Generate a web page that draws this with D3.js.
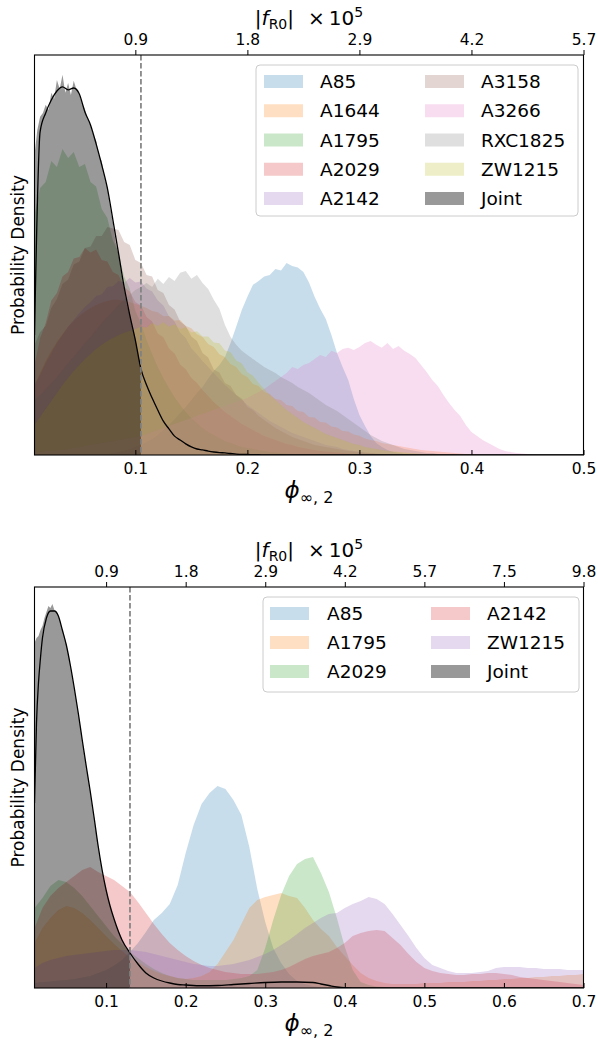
<!DOCTYPE html>
<html>
<head>
<meta charset="utf-8">
<script src="https://cdn.jsdelivr.net/npm/d3@7/dist/d3.min.js"></script>
<style>
  body { margin: 0; background: #fff; }
  svg text { font-family: "DejaVu Sans", sans-serif; fill: #000; }
</style>
</head>
<body>
<svg id="fig" width="598" height="1046"></svg>
<script>
// ---------------- Upper panel: nine clusters ----------------
// density grid, phi = 0.010 ... 0.500 in steps of 0.005 (99 bins)
const phiTop = d3.range(99).map(i => +(0.01 + 0.005 * i).toFixed(3));

const topA85 = [
  0,0,0,0,0,0,0,0,0,0,
  0,0,0,0,0.07,0.1,0.13,0.2,0.27,0.33,
  0.43,0.53,0.67,0.83,1.0,1.2,1.4,1.6,1.83,2.07,
  2.27,2.55,2.8,3.0,3.27,3.73,4.27,4.83,5.27,5.67,
  5.8,5.95,6.0,6.2,6.15,6.4,6.3,6.25,6.1,5.75,
  5.27,4.87,4.53,4.0,3.4,2.93,2.5,1.87,1.33,0.97,
  0.63,0.4,0.27,0.17,0.1,0.07,0.03,0,0,0,
  0,0,0,0,0,0,0,0,0,0,
  0,0,0,0,0,0,0,0,0,0,
  0,0,0,0,0,0,0,0,0];
const topA1644 = [
  2.33,2.73,3.13,3.47,3.77,4.03,4.27,4.47,4.63,4.77,
  4.9,5.0,5.07,5.13,5.17,5.17,5.13,5.1,5.03,4.97,
  4.9,4.8,4.76,4.62,4.63,4.48,4.5,4.3,4.22,4.02,
  3.93,3.7,3.6,3.36,3.27,3.03,2.93,2.7,2.6,2.37,
  2.3,2.1,2.03,1.87,1.83,1.67,1.63,1.47,1.43,1.27,
  1.25,1.1,1.08,0.95,0.92,0.8,0.78,0.68,0.64,0.55,
  0.5,0.47,0.4,0.37,0.33,0.3,0.27,0.23,0.2,0.17,
  0.15,0.13,0.12,0.1,0.08,0.07,0.05,0.03,0.03,0.02,
  0,0,0,0,0,0,0,0,0,0,
  0,0,0,0,0,0,0,0,0];
const topA1795 = [
  8.0,8.9,9.1,9.8,9.6,10.2,9.9,10.1,9.6,9.7,
  9.1,8.95,8.2,7.9,7.15,6.75,5.95,5.55,4.8,4.4,
  3.83,3.37,2.93,2.57,2.23,1.93,1.67,1.43,1.23,1.07,
  0.9,0.77,0.67,0.57,0.47,0.4,0.33,0.27,0.23,0.2,
  0.17,0.13,0.1,0.08,0.07,0.05,0.03,0.03,0.02,0,
  0,0,0,0,0,0,0,0,0,0,
  0,0,0,0,0,0,0,0,0,0,
  0,0,0,0,0,0,0,0,0,0,
  0,0,0,0,0,0,0,0,0,0,
  0,0,0,0,0,0,0,0,0];
const topA2029 = [
  3.0,3.9,4.4,5.15,5.4,5.95,6.1,6.55,6.6,6.9,
  6.75,6.85,6.5,6.45,6.1,6.0,5.6,5.45,5.1,4.98,
  4.6,4.45,4.05,3.92,3.55,3.38,3.02,2.86,2.57,2.4,
  2.17,1.97,1.77,1.6,1.43,1.3,1.17,1.03,0.93,0.83,
  0.73,0.63,0.57,0.5,0.43,0.37,0.33,0.27,0.23,0.2,
  0.17,0.13,0.12,0.1,0.08,0.07,0.05,0.03,0.03,0.02,
  0,0,0,0,0,0,0,0,0,0,
  0,0,0,0,0,0,0,0,0,0,
  0,0,0,0,0,0,0,0,0,0,
  0,0,0,0,0,0,0,0,0];
const topA2142 = [
  2.33,2.67,3.07,3.4,3.73,4.0,4.27,4.5,4.73,4.93,
  5.1,5.3,5.35,5.6,5.62,5.8,5.75,5.9,5.75,5.78,
  5.55,5.45,5.15,4.98,4.62,4.45,4.08,3.9,3.56,3.36,
  3.13,2.93,2.73,2.53,2.33,2.17,2.0,1.83,1.67,1.53,
  1.4,1.27,1.13,1.03,0.93,0.83,0.73,0.67,0.6,0.53,
  0.47,0.4,0.33,0.3,0.27,0.2,0.17,0.13,0.1,0.07,
  0.05,0.03,0.03,0.02,0,0,0,0,0,0,
  0,0,0,0,0,0,0,0,0,0,
  0,0,0,0,0,0,0,0,0,0,
  0,0,0,0,0,0,0,0,0];
const topA3158 = [
  3.67,4.1,4.3,4.9,5.2,5.7,5.85,6.35,6.45,6.9,
  6.95,7.3,7.3,7.6,7.55,7.5,7.1,7.0,6.5,6.4,
  6.0,5.95,5.5,5.4,5.0,4.85,4.45,4.3,3.95,3.8,
  3.4,3.25,2.85,2.75,2.4,2.3,2.0,1.88,1.6,1.5,
  1.3,1.17,1.03,0.9,0.8,0.7,0.6,0.53,0.47,0.4,
  0.33,0.3,0.27,0.23,0.2,0.17,0.13,0.12,0.1,0.08,
  0.07,0.05,0.03,0.03,0.02,0,0,0,0,0,
  0,0,0,0,0,0,0,0,0,0,
  0,0,0,0,0,0,0,0,0,0,
  0,0,0,0,0,0,0,0,0];
const topA3266 = [
  0.1,0.1,0.13,0.13,0.17,0.17,0.2,0.23,0.27,0.3,
  0.33,0.37,0.4,0.43,0.47,0.5,0.53,0.57,0.6,0.63,
  0.7,0.77,0.83,0.9,0.97,1.03,1.1,1.17,1.23,1.3,
  1.37,1.43,1.5,1.57,1.63,1.7,1.77,1.83,1.9,2.0,
  2.1,2.2,2.33,2.47,2.6,2.73,2.93,2.87,3.0,3.07,
  3.2,3.33,3.27,3.47,3.4,3.53,3.57,3.5,3.6,3.73,
  3.8,3.67,3.57,3.73,3.53,3.63,3.47,3.37,3.23,3.0,
  2.77,2.5,2.3,2.0,1.73,1.5,1.3,1.0,0.77,0.63,
  0.5,0.4,0.3,0.2,0.13,0.1,0.07,0.05,0.03,0.02,
  0,0,0,0,0,0,0,0,0];
const topRXC1825 = [
  1.83,2.0,2.2,2.4,2.6,2.83,3.07,3.27,3.5,3.73,
  3.93,4.17,4.4,4.6,4.8,5.0,5.2,5.33,5.5,5.6,
  5.73,5.6,5.87,5.7,5.93,5.8,6.07,6.13,5.87,6.0,
  5.73,5.53,5.17,4.87,4.33,3.93,3.67,3.47,3.33,3.2,
  3.07,2.93,2.83,2.73,2.6,2.5,2.4,2.27,2.17,2.07,
  1.93,1.8,1.67,1.57,1.47,1.33,1.2,1.07,0.93,0.8,
  0.67,0.57,0.47,0.4,0.33,0.27,0.2,0.17,0.13,0.1,
  0.07,0.07,0.03,0.03,0.03,0.02,0,0,0,0,
  0,0,0,0,0,0,0,0,0,0,
  0,0,0,0,0,0,0,0,0];
const topZW1215 = [
  1.0,1.27,1.53,1.8,2.07,2.33,2.57,2.8,3.0,3.2,
  3.37,3.53,3.67,3.8,3.9,4.0,4.07,4.13,4.2,4.27,
  4.25,4.4,4.3,4.42,4.28,4.36,4.2,4.26,4.08,4.12,
  3.95,3.95,3.75,3.72,3.48,3.42,3.15,3.05,2.76,2.64,
  2.4,2.2,2.0,1.83,1.67,1.5,1.37,1.23,1.1,1.0,
  0.9,0.8,0.7,0.63,0.57,0.5,0.43,0.37,0.33,0.27,
  0.23,0.2,0.17,0.13,0.12,0.1,0.08,0.07,0.05,0.03,
  0.03,0.02,0,0,0,0,0,0,0,0,
  0,0,0,0,0,0,0,0,0,0,
  0,0,0,0,0,0,0,0,0];

// joint posterior histogram, kept up to the 95% bound (phi = 0.010 ... 0.105, step 0.0025)
const phiJointTop = d3.range(39).map(i => +(0.01 + 0.0025 * i).toFixed(4));
const jointTop = [
  10.0,10.83,11.27,11.4,11.67,11.5,12.07,11.87,12.5,12.2,
  12.67,12.07,12.4,12.0,12.47,12.17,12.0,11.73,11.53,11.2,
  11.0,10.67,10.47,10.0,9.8,9.27,8.93,8.27,7.73,7.07,
  6.67,6.07,5.53,5.0,4.67,4.2,3.87,3.33,2.93];
// smoothed joint density on the 0.005 grid
const kdeTop = [
  4.0,10.77,11.4,11.83,12.13,12.27,12.17,12.23,12.03,11.43,
  11.0,10.37,9.67,8.9,7.83,6.73,5.6,4.67,3.83,2.87,
  2.33,1.9,1.5,1.13,0.87,0.63,0.5,0.37,0.27,0.2,
  0.17,0.13,0.1,0.08,0.07,0.05,0.03,0.02,0.02,0.01,
  0.01,0,0,0,0,0,0,0,0,0,
  0,0,0,0,0,0,0,0,0,0,
  0,0,0,0,0,0,0,0,0,0,
  0,0,0,0,0,0,0,0,0,0,
  0,0,0,0,0,0,0,0,0,0,
  0,0,0,0,0,0,0,0,0];
const limitTop = 0.105;
const ticksTop = [0.1, 0.2, 0.3, 0.4, 0.5];
const fR0LabelsTop = ["0.9", "1.8", "2.9", "4.2", "5.7"];

// ---------------- Lower panel: five clusters ----------------
const phiBottom = d3.range(70).map(i => +(0.01 + 0.01 * i).toFixed(2));

const botA85 = [
  0.2,0.24,0.26,0.3,0.32,0.36,0.42,0.48,0.6,0.72,
  0.9,1.12,1.44,1.8,2.24,2.72,3.0,3.36,4.12,5.4,
  6.52,7.36,7.8,8.08,7.96,7.52,6.92,5.64,3.96,2.64,
  1.6,1.0,0.56,0.28,0.16,0.08,0.04,0.02,0,0,
  0,0,0,0,0,0,0,0,0,0,
  0,0,0,0,0,0,0,0,0,0,
  0,0,0,0,0,0,0,0,0,0];
const botA1795 = [
  1.8,2.4,2.8,3.12,3.28,3.2,3.0,2.72,2.4,2.08,
  1.76,1.48,1.24,1.04,0.84,0.68,0.56,0.48,0.4,0.36,
  0.4,0.48,0.64,0.96,1.44,1.92,2.56,3.2,3.52,3.64,
  3.72,3.8,3.68,3.6,3.2,2.72,2.36,2.08,1.64,1.28,
  0.92,0.6,0.4,0.28,0.2,0.16,0.16,0.16,0.16,0.2,
  0.2,0.2,0.24,0.24,0.24,0.28,0.28,0.32,0.32,0.36,
  0.36,0.4,0.4,0.44,0.44,0.48,0.48,0.52,0.52,0.56];
const botA2029 = [
  3.2,3.6,4.08,4.32,4.24,4.0,3.68,3.28,2.88,2.48,
  2.08,1.76,1.44,1.2,0.96,0.76,0.6,0.48,0.4,0.36,
  0.32,0.32,0.32,0.32,0.32,0.36,0.4,0.48,0.72,1.6,
  2.72,3.72,4.48,4.96,5.16,5.24,4.6,3.84,2.8,1.64,
  0.72,0.24,0.12,0.06,0.04,0,0,0,0,0,
  0,0,0,0,0,0,0,0,0,0,
  0,0,0,0,0,0,0,0,0,0];
const botA2142 = [
  2.4,3.2,3.68,4.0,4.24,4.48,4.72,4.84,4.64,4.48,
  4.32,4.08,3.84,3.44,3.0,2.56,2.16,1.8,1.52,1.28,
  1.08,0.92,0.8,0.72,0.64,0.6,0.56,0.56,0.56,0.6,
  0.64,0.72,0.84,1.0,1.16,1.28,1.36,1.44,1.6,1.8,
  2.08,2.2,2.28,2.32,2.28,2.0,1.72,1.36,1.04,0.8,
  0.68,0.6,0.56,0.52,0.52,0.56,0.56,0.6,0.6,0.56,
  0.52,0.44,0.4,0.36,0.32,0.28,0.24,0.2,0.16,0.12];
const botZW1215 = [
  0.8,1.0,1.12,1.2,1.28,1.32,1.36,1.4,1.44,1.48,
  1.52,1.52,1.52,1.48,1.44,1.36,1.28,1.2,1.12,1.04,
  0.96,0.92,0.88,0.88,0.92,0.96,1.04,1.12,1.24,1.36,
  1.52,1.72,1.92,2.16,2.4,2.6,2.8,2.96,3.0,3.2,
  3.36,3.48,3.64,3.56,3.36,2.96,2.52,2.08,1.6,1.2,
  0.92,0.8,0.68,0.6,0.6,0.6,0.64,0.68,0.8,0.84,
  0.84,0.84,0.8,0.8,0.76,0.76,0.76,0.72,0.72,0.72];

const phiJointBottom = d3.range(49).map(i => +(0.01 + 0.0025 * i).toFixed(4));
const jointBottom = [
  13.8,14.0,14.08,14.32,14.48,14.8,15.04,15.28,15.2,15.36,
  15.12,15.04,14.88,14.64,14.32,14.08,13.76,13.36,12.92,12.48,
  12.0,11.52,11.0,10.48,9.92,9.4,8.88,8.4,7.88,7.32,
  6.8,6.24,5.72,5.2,4.72,4.32,3.92,3.6,3.28,3.0,
  2.76,2.52,2.32,2.12,1.92,1.76,1.6,1.48,1.4];
const kdePhiBottom = [
  0.010,0.0125,0.015,0.0175,0.020,0.025,0.030,0.035,0.040,0.045,
  0.050,0.055,0.060,0.065,0.070,0.075,0.080,0.085,0.090,0.095,
  0.100,0.105,0.110,0.120,0.130,0.140,0.150,0.160,0.170,0.180,
  0.190,0.200,0.220,0.240,0.260,0.280,0.300,0.320,0.340,0.360,
  0.370,0.380,0.390,0.400,0.420,0.700];
const kdeBottom = [
  7.4,10.6,12.2,13.2,14.0,14.8,15.08,15.08,14.88,14.32,
  13.72,12.92,12.0,11.0,9.92,8.88,7.88,6.8,5.68,4.72,
  3.92,3.28,2.76,1.92,1.4,0.96,0.6,0.4,0.28,0.2,
  0.14,0.12,0.09,0.1,0.14,0.18,0.22,0.24,0.24,0.22,
  0.16,0.1,0.04,0.01,0,0];
const limitBottom = 0.13;
const ticksBottom = [0.1, 0.2, 0.3, 0.4, 0.5, 0.6, 0.7];
const fR0LabelsBottom = ["0.9", "1.8", "2.9", "4.2", "5.7", "7.5", "9.8"];

// tab10 palette
const C = {
  blue: "#1f77b4", orange: "#ff7f0e", green: "#2ca02c", red: "#d62728",
  purple: "#9467bd", brown: "#8c564b", pink: "#e377c2", gray: "#7f7f7f", olive: "#bcbd22"
};

const panels = [
  {
    id: "top", top: 55, bottom: 455, xDomain: [0.01, 0.5], yMax: 13.33,
    grid: phiTop,
    series: [
      { name: "A85", values: topA85, color: C.blue },
      { name: "A1644", values: topA1644, color: C.orange },
      { name: "A1795", values: topA1795, color: C.green },
      { name: "A2029", values: topA2029, color: C.red },
      { name: "A2142", values: topA2142, color: C.purple },
      { name: "A3158", values: topA3158, color: C.brown },
      { name: "A3266", values: topA3266, color: C.pink },
      { name: "RXC1825", values: topRXC1825, color: C.gray },
      { name: "ZW1215", values: topZW1215, color: C.olive }
    ],
    jointPhi: phiJointTop, joint: jointTop,
    kdePhi: phiTop, kde: kdeTop,
    limit: limitTop, ticks: ticksTop, fr0: fR0LabelsTop,
    legend: { x: 256, y: 65, w: 322, h: 151, rows: 5, row0: 81.5, step: 29.25,
              patchX: [264, 425], textX: [320, 481] }
  },
  {
    id: "bottom", top: 587, bottom: 988, xDomain: [0.01, 0.7], yMax: 16.04,
    grid: phiBottom,
    series: [
      { name: "A85", values: botA85, color: C.blue },
      { name: "A1795", values: botA1795, color: C.orange },
      { name: "A2029", values: botA2029, color: C.green },
      { name: "A2142", values: botA2142, color: C.red },
      { name: "ZW1215", values: botZW1215, color: C.purple }
    ],
    jointPhi: phiJointBottom, joint: jointBottom,
    kdePhi: kdePhiBottom, kde: kdeBottom,
    limit: limitBottom, ticks: ticksBottom, fr0: fR0LabelsBottom,
    legend: { x: 263, y: 597, w: 316, h: 95, rows: 3, row0: 613.5, step: 29,
              patchX: [270, 431], textX: [327, 487] }
  }
];

const svg = d3.select("#fig");
const X0 = 34.5, X1 = 583.5;

panels.forEach(p => {
  const x = d3.scaleLinear().domain(p.xDomain).range([X0, X1]);
  const y = d3.scaleLinear().domain([0, p.yMax]).range([p.bottom, p.top]);

  const clipId = "clip-" + p.id;
  svg.append("clipPath").attr("id", clipId).append("rect")
    .attr("x", X0).attr("y", p.top).attr("width", X1 - X0).attr("height", p.bottom - p.top);
  const plot = svg.append("g").attr("clip-path", `url(#${clipId})`);

  const area = d3.area().x(d => x(d[0])).y0(y(0)).y1(d => y(d[1]));

  // per-cluster posteriors
  p.series.forEach(s => {
    plot.append("path")
      .datum(p.grid.map((phi, i) => [phi, s.values[i]]))
      .attr("d", area)
      .attr("fill", s.color)
      .attr("fill-opacity", 0.25);
  });

  // joint posterior below the upper bound
  plot.append("path")
    .datum(p.jointPhi.map((phi, i) => [phi, p.joint[i]]))
    .attr("d", area)
    .attr("fill", "#000")
    .attr("fill-opacity", 0.4);

  // smoothed joint density
  const line = d3.line().x(d => x(d[0])).y(d => y(d[1])).curve(d3.curveMonotoneX);
  plot.append("path")
    .datum(p.kdePhi.map((phi, i) => [phi, p.kde[i]]))
    .attr("d", line)
    .attr("fill", "none")
    .attr("stroke", "#000")
    .attr("stroke-width", 1.3);

  // 95% upper bound
  plot.append("line")
    .attr("x1", x(p.limit)).attr("x2", x(p.limit))
    .attr("y1", p.top).attr("y2", p.bottom)
    .attr("stroke", "#808080")
    .attr("stroke-width", 1.7)
    .attr("stroke-dasharray", "5.5,2.5");

  // bottom axis (ticks pointing inward)
  const gx = svg.append("g").attr("transform", `translate(0,${p.bottom})`)
    .call(d3.axisBottom(x).tickValues(p.ticks).tickFormat(d3.format(".1f"))
      .tickSizeInner(-5).tickSizeOuter(0).tickPadding(8));
  gx.select(".domain").remove();
  gx.selectAll("line").attr("stroke", "#000").attr("stroke-width", 1);
  gx.selectAll("text").attr("font-family", "DejaVu Sans").attr("font-size", 15.5).attr("fill", "#000");

  // secondary axis in |f_R0|
  const gt = svg.append("g").attr("transform", `translate(0,${p.top})`)
    .call(d3.axisTop(x).tickValues(p.ticks).tickFormat((d, i) => p.fr0[i])
      .tickSizeInner(5).tickSizeOuter(0).tickPadding(5));
  gt.select(".domain").remove();
  gt.selectAll("line").attr("stroke", "#000").attr("stroke-width", 1);
  gt.selectAll("text").attr("font-family", "DejaVu Sans").attr("font-size", 15.5).attr("fill", "#000");

  // frame
  svg.append("rect")
    .attr("x", X0).attr("y", p.top).attr("width", X1 - X0).attr("height", p.bottom - p.top)
    .attr("fill", "none").attr("stroke", "#000").attr("stroke-width", 1.1);

  // top axis title
  const cx = (X0 + X1) / 2;
  const tt = svg.append("text").attr("x", cx).attr("y", p.top - 30)
    .attr("text-anchor", "middle").attr("font-size", 20);
  tt.append("tspan").text("|");
  tt.append("tspan").attr("font-style", "italic").text("f");
  tt.append("tspan").attr("font-size", 14).attr("dy", 4).text("R0");
  tt.append("tspan").attr("dy", -4).text("|\u2002\u2009\u00D7\u200910");
  tt.append("tspan").attr("font-size", 14).attr("dy", -8).text("5");

  // x label
  const xl = svg.append("text").attr("x", cx).attr("y", p.bottom + 43)
    .attr("text-anchor", "middle").attr("font-size", 23);
  xl.append("tspan").attr("font-style", "italic").text("\u03D5");
  xl.append("tspan").attr("font-size", 16).attr("dy", 5).text("\u221E, 2");

  // y label
  svg.append("text")
    .attr("transform", `translate(24,${(p.top + p.bottom) / 2}) rotate(-90)`)
    .attr("text-anchor", "middle").attr("font-size", 17)
    .text("Probability Density");

  // legend
  const L = p.legend;
  const lg = svg.append("g");
  lg.append("rect").attr("x", L.x).attr("y", L.y).attr("width", L.w).attr("height", L.h)
    .attr("rx", 4).attr("fill", "#fff").attr("fill-opacity", 0.8)
    .attr("stroke", "#ccc").attr("stroke-width", 1);
  const entries = p.series.map(s => ({ name: s.name, color: s.color, op: 0.25 }))
    .concat([{ name: "Joint", color: "#000", op: 0.4 }]);
  entries.forEach((e, i) => {
    const col = Math.floor(i / L.rows), row = i % L.rows;
    const cy = L.row0 + row * L.step;
    lg.append("rect").attr("x", L.patchX[col]).attr("y", cy - 6.5)
      .attr("width", 39).attr("height", 13)
      .attr("fill", e.color).attr("fill-opacity", e.op);
    lg.append("text").attr("x", L.textX[col]).attr("y", cy + 6.5)
      .attr("font-size", 18.5).text(e.name);
  });
});
</script>
</body>
</html>
